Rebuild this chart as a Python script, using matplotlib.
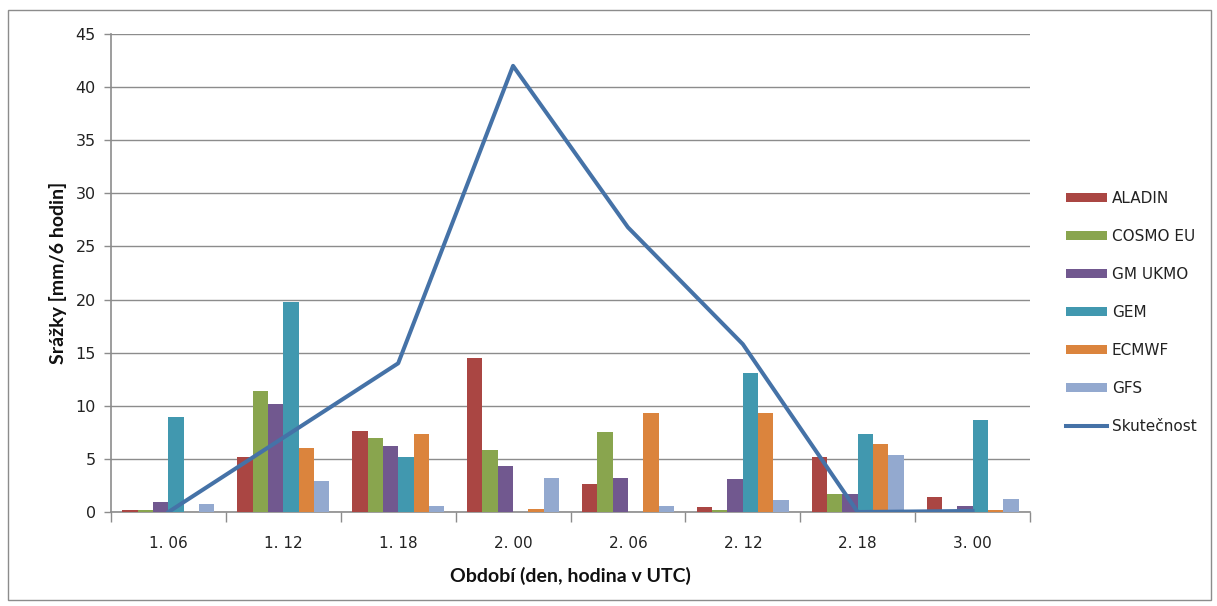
import matplotlib
matplotlib.use("Agg")
import matplotlib.pyplot as plt
import numpy as np
from matplotlib.patches import Rectangle

categories = ["1. 06", "1. 12", "1. 18", "2. 00", "2. 06", "2. 12", "2. 18", "3. 00"]

aladin = [0.2, 5.2, 7.6, 14.5, 2.6, 0.45, 5.15, 1.4]
cosmo_eu = [0.2, 11.4, 7.0, 5.8, 7.5, 0.15, 1.7, 0.0]
gm_ukmo = [0.9, 10.2, 6.2, 4.3, 3.2, 3.1, 1.7, 0.6]
gem = [8.9, 19.8, 5.15, 0.0, 0.0, 13.1, 7.3, 8.7]
ecmwf = [0.0, 6.0, 7.3, 0.3, 9.3, 9.3, 6.4, 0.2]
gfs = [0.8, 2.9, 0.6, 3.2, 0.6, 1.1, 5.35, 1.25]
skutecnost = [0.0, 7.0, 14.0, 42.0, 26.8, 15.8, 0.0, 0.1]

series_names = ["ALADIN", "COSMO EU", "GM UKMO", "GEM", "ECMWF", "GFS"]
series_values = [aladin, cosmo_eu, gm_ukmo, gem, ecmwf, gfs]
series_colors = ["#AA4643", "#89A54E", "#71588F", "#4198AF", "#DB843D", "#93A9CF"]
line_color = "#4572A7"

plt.rcParams["font.family"] = ["DejaVu Sans"]

fig = plt.figure(figsize=(12.17, 6.06), dpi=100)
ax = fig.add_axes([111 / 1217, 1 - 512 / 606, (1030 - 111) / 1217, (512 - 34) / 606])

x = np.arange(len(categories))
n = len(series_names)
width = 1 / 7.5
handles = []
for i, (name, vals, col) in enumerate(zip(series_names, series_values, series_colors)):
    offs = (i - (n - 1) / 2) * width
    h = ax.bar(x + offs, vals, width=width, color=col, edgecolor="none",
               label=name, zorder=3)
    handles.append(h)

ln, = ax.plot(x, skutecnost, color=line_color, lw=2.9, label="Skutečnost", zorder=4,
              solid_joinstyle="round")
handles.append(ln)

ax.set_xlim(-0.5, len(categories) - 0.5)
ax.set_ylim(0, 45)
ax.set_yticks(np.arange(0, 46, 5))
ax.yaxis.grid(True, color="#8c8c8c", lw=1.0, zorder=0)
ax.set_axisbelow(True)

# category boundaries as tick marks on x axis
ax.set_xticks(np.arange(-0.5, len(categories), 1.0), minor=False)
ax.set_xticklabels([])
ax.set_xticks(x, minor=True)
ax.set_xticklabels(categories, minor=True)
ax.tick_params(axis="x", which="major", direction="out", length=7, width=1, color="#8c8c8c")
ax.tick_params(axis="x", which="minor", length=0, pad=17, labelsize=11, labelcolor="#222222")
ax.tick_params(axis="y", direction="out", length=5, width=1, color="#8c8c8c",
               pad=6, labelsize=11.5, labelcolor="#222222")

for side in ["top", "right"]:
    ax.spines[side].set_visible(False)
for side in ["left", "bottom"]:
    ax.spines[side].set_color("#8c8c8c")
    ax.spines[side].set_linewidth(1.2)

label_font = dict(family=["Lato", "DejaVu Sans"], fontweight="bold", fontsize=14, color="#111111")
ax.set_ylabel("Srážky [mm/6 hodin]", labelpad=6, **label_font)
ax.set_xlabel("Období (den, hodina v UTC)", labelpad=12, **label_font)

leg = fig.legend(handles=handles, labels=series_names + ["Skutečnost"],
                 loc="upper left", bbox_to_anchor=(1060 / 1217, 1 - 185 / 606),
                 frameon=False, fontsize=11, handlelength=2.7, handleheight=0.55,
                 handletextpad=0.3, labelspacing=1.5, borderaxespad=0)
for t in leg.get_texts():
    t.set_color("#222222")

# outer chart frame
fig.patches.append(Rectangle((8 / 1217, 6 / 606), 1203 / 1217, 590 / 606,
                             transform=fig.transFigure, fill=False,
                             edgecolor="#8c8c8c", lw=1.0))

fig.savefig("out.png", dpi=100)
